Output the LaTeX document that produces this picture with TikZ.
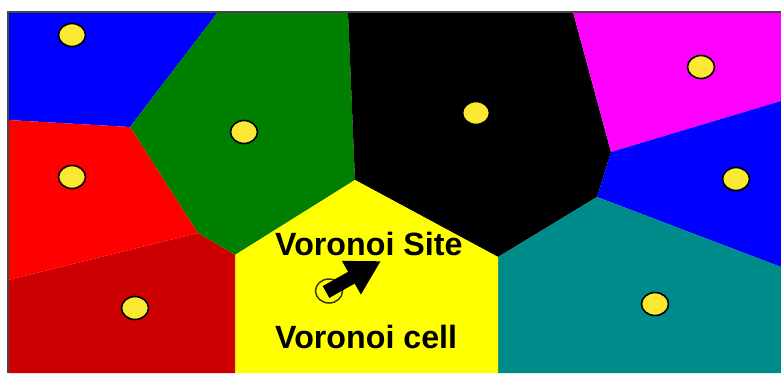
\documentclass[tikz,border=0pt]{standalone}
\usepackage{fontspec}
\setmainfont{Liberation Sans}
\usetikzlibrary{shapes.geometric,arrows.meta}
\definecolor{cblue}{RGB}{0,0,255}
\definecolor{cgreen}{RGB}{0,128,0}
\definecolor{cmag}{RGB}{255,0,255}
\definecolor{cteal}{RGB}{0,139,139}
\definecolor{cred}{RGB}{255,0,0}
\definecolor{cdred}{RGB}{204,0,0}
\definecolor{cyel}{RGB}{255,255,0}
\definecolor{csite}{RGB}{250,232,50}
\definecolor{cframe}{RGB}{70,70,70}
\definecolor{cring}{RGB}{60,55,20}
\tikzset{
  site/.style={ellipse, draw=black, line width=1.6pt, fill=csite, minimum width=27pt, minimum height=23pt, inner sep=0pt},
  hollowsite/.style={ellipse, draw=cring, line width=1.5pt, minimum width=27pt, minimum height=24pt, inner sep=0pt},
  label/.style={font=\bfseries\fontsize{32.2}{36}\selectfont, anchor=base west, inner sep=0pt},
}
\begin{document}
\begin{tikzpicture}[x=1pt,y=-1pt]
\useasboundingbox (0,0) rectangle (781,373);
\fill[white] (0,0) rectangle (781,373);
% cells
\fill[cblue] (8,12) -- (218,12) -- (130,127) -- (8,120) -- cycle;
\fill[cgreen] (218,12) -- (348,12) -- (355,180) -- (235,255) -- (198,233) -- (130,127) -- cycle;
\fill[black] (348,12) -- (573,12) -- (611,152) -- (597,197) -- (498,257) -- (355,180) -- cycle;
\fill[cmag] (573,12) -- (781,12) -- (781,101) -- (611,152) -- cycle;
\fill[cblue] (611,152) -- (781,101) -- (781,267) -- (597,197) -- cycle;
\fill[cteal] (597,197) -- (781,267) -- (781,373) -- (498,373) -- (498,257) -- cycle;
\fill[cyel] (235,255) -- (355,180) -- (498,257) -- (498,373) -- (235,373) -- cycle;
\fill[cdred] (8,280) -- (198,233) -- (235,255) -- (235,373) -- (8,373) -- cycle;
\fill[cred] (8,120) -- (130,127) -- (198,233) -- (8,280) -- cycle;
% frame
\draw[cframe, line width=1.5pt] (8,373) -- (8,12) -- (781,12);
% sites
\node[site] (s1) at (72,35) {};
\node[site] (s2) at (244,132) {};
\node[site] (s3) at (476,113) {};
\node[site] (s4) at (701,67) {};
\node[site] (s5) at (736,179) {};
\node[site] (s6) at (72,177) {};
\node[site] (s7) at (135,308) {};
\node[site] (s8) at (655,304) {};
\node[hollowsite] (s9) at (329,291) {};
% labels
\node[label] (lsite) at (275,255) {Voronoi Site};
\node[label] (lcell) at (275,348) {Voronoi cell};
% arrow
\coordinate (atail) at (326,292);
\coordinate (atip) at (381,261);
\draw[line width=13.5pt, -{Triangle[width=36pt,length=34pt]}] (atail) -- (atip);
\end{tikzpicture}
\end{document}
